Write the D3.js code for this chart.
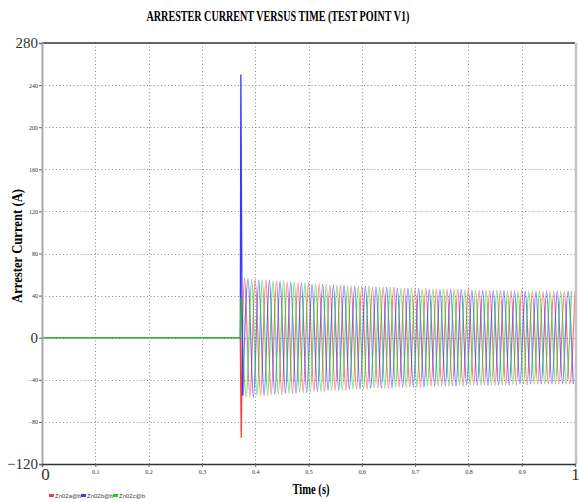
<!DOCTYPE html>
<html>
<head>
<meta charset="utf-8">
<script src="https://cdn.jsdelivr.net/npm/d3@7"></script>
<style>
  body { margin: 0; background: #fff; }
  svg { display: block; font-family: "Liberation Serif", "DejaVu Serif", serif; }
</style>
</head>
<body>
<svg id="chart" width="579" height="502"></svg>
<script>
// axis ticks
const xTicks = [0, 0.1, 0.2, 0.3, 0.4, 0.5, 0.6, 0.7, 0.8, 0.9, 1];
const yTicks = [-120, -80, -40, 0, 40, 80, 120, 160, 200, 240, 280];
const seriesNames = ["Zn02a@b", "Zn02b@b", "Zn02c@b"];
const seriesColors = ["#ff3b3b", "#3a3aff", "#22cc22"];

// pre-fault and switching transient, [time, current]
const redLead = [[0, 0], [0.372, 0], [0.3738, -95], [0.3765, 18]];
const blueLead = [[0, 0], [0.372, 0], [0.3731, 250], [0.3752, 30], [0.3767, -55]];
const greenLead = [[0, 0], [0.372, 0], [0.3735, 38]];

// half-cycle extremes after the transient (50 Hz, one every 10 ms per phase)
const halfCycle = 0.01;
const redStart = 0.38, greenStart = 0.38333, blueStart = 0.38667;
const redPeaks = [
  57,-56,56,-55,55,-54,54,-54,53,-53,
  52,-52,52,-51,51,-51,50,-50,50,-50,
  49,-49,49,-49,48,-48,48,-48,48,-47,
  47,-47,47,-47,47,-46,46,-46,46,-46,
  46,-46,46,-45,45,-45,45,-45,45,-45,
  45,-45,45,-45,44,-44,44,-44,44,-44,
  44,-44,44];
const bluePeaks = [
  56,-57,55,-55,55,-54,54,-53,53,-53,
  52,-52,51,-51,51,-50,50,-50,50,-49,
  49,-49,49,-48,48,-48,48,-48,47,-47,
  47,-47,47,-47,46,-46,46,-46,46,-46,
  46,-45,45,-45,45,-45,45,-45,45,-45,
  44,-44,44,-44,44,-44,44,-44,44,-44,
  44,-44];
const greenPeaks = [
  -56,56,-55,55,-55,54,-54,54,-53,53,
  -52,52,-52,51,-51,51,-50,50,-50,49,
  -49,49,-49,49,-48,48,-48,48,-47,47,
  -47,47,-47,46,-46,46,-46,46,-46,46,
  -45,45,-45,45,-45,45,-45,45,-45,44,
  -44,44,-44,44,-44,44,-44,44,-44,44,
  -44,44];

const leads = [redLead, blueLead, greenLead];
const buildSeries = (lead, start, peaks) =>
  lead.slice(-1).concat(peaks.map((v, i) => [start + i * halfCycle, v]));

const waves = [
  buildSeries(redLead, redStart, redPeaks),
  buildSeries(blueLead, blueStart, bluePeaks),
  buildSeries(greenLead, greenStart, greenPeaks)
];

const svg = d3.select("#chart");
const plotLeft = 42, plotRight = 575, plotTop = 43, plotBottom = 464;

const x = d3.scaleLinear().domain([0, 1]).range([plotLeft, plotRight]);
const y = d3.scaleLinear().domain([-120, 280]).range([plotBottom, plotTop]);

// title
svg.append("text")
  .attr("x", 278).attr("y", 21)
  .attr("text-anchor", "middle")
  .attr("font-size", 15).attr("font-weight", "bold")
  .attr("textLength", 263).attr("lengthAdjust", "spacingAndGlyphs")
  .text("ARRESTER CURRENT VERSUS TIME (TEST POINT V1)");

// grid
const grid = svg.append("g").attr("stroke", "#8a8a8a").attr("stroke-dasharray", "1,2.5").attr("stroke-width", 1);
grid.selectAll("line.v").data(xTicks.slice(1, -1)).join("line")
  .attr("class", "v")
  .attr("x1", d => Math.round(x(d)) + 0.5).attr("x2", d => Math.round(x(d)) + 0.5)
  .attr("y1", plotTop).attr("y2", plotBottom);
grid.selectAll("line.h").data(yTicks.slice(1, -1)).join("line")
  .attr("class", "h")
  .attr("x1", plotLeft).attr("x2", plotRight)
  .attr("y1", d => Math.round(y(d)) + 0.5).attr("y2", d => Math.round(y(d)) + 0.5);

// traces: transient as straight segments, steady oscillation smoothed through the extremes
const leadLine = d3.line().x(d => x(d[0])).y(d => y(d[1]));
const waveLine = d3.line().x(d => x(d[0])).y(d => y(d[1])).curve(d3.curveMonotoneX);
const traces = svg.append("g").attr("fill", "none");
traces.selectAll("path.wave").data(waves).join("path")
  .attr("class", "wave")
  .attr("d", waveLine)
  .attr("stroke", (d, i) => seriesColors[i])
  .attr("stroke-width", 1.2)
  .attr("stroke-opacity", 0.7);
traces.selectAll("path.lead").data(leads).join("path")
  .attr("class", "lead")
  .attr("d", leadLine)
  .attr("stroke", (d, i) => seriesColors[i])
  .attr("stroke-width", 1.3);

// frame
svg.append("line").attr("x1", plotLeft).attr("x2", plotRight).attr("y1", plotTop).attr("y2", plotTop)
  .attr("stroke", "#333").attr("stroke-width", 1.3);
svg.append("line").attr("x1", plotRight + 1).attr("x2", plotRight + 1).attr("y1", plotTop).attr("y2", plotBottom)
  .attr("stroke", "#c4c4c4").attr("stroke-width", 2.5);

// axes
const yAxis = d3.axisLeft(y).tickValues(yTicks).tickSize(3).tickFormat(d3.format("d"));
const gy = svg.append("g").attr("transform", `translate(${plotLeft},0)`).call(yAxis);
gy.select(".domain").attr("stroke", "#aaa").attr("stroke-width", 2);
gy.selectAll(".tick line").attr("stroke", "#666");
gy.selectAll(".tick text")
  .attr("x", -4)
  .attr("font-family", "Liberation Serif, serif")
  .attr("fill", "#333")
  .attr("font-size", d => (d === 280 || d === 0 || d === -120) ? 15 : 6);

const xAxis = d3.axisBottom(x).tickValues(xTicks).tickSize(3).tickFormat(d => d === 0 || d === 1 ? d : d.toFixed(1));
const gx = svg.append("g").attr("transform", `translate(0,${plotBottom})`).call(xAxis);
gx.select(".domain").attr("stroke", "#333").attr("stroke-width", 1.3);
gx.selectAll(".tick line").attr("stroke", "#666");
gx.selectAll(".tick text")
  .attr("font-family", "Liberation Serif, serif")
  .attr("fill", "#333")
  .attr("font-size", d => (d === 0 || d === 1) ? 17 : 6)
  .attr("y", d => (d === 0 || d === 1) ? 4 : 6)
  .attr("dx", d => d === 0 ? 3 : 0);

// axis titles
svg.append("text")
  .attr("transform", `translate(22,246) rotate(-90)`)
  .attr("text-anchor", "middle")
  .attr("font-size", 14).attr("font-weight", "bold")
  .attr("textLength", 114).attr("lengthAdjust", "spacingAndGlyphs")
  .text("Arrester Current (A)");
svg.append("text")
  .attr("x", 311).attr("y", 494)
  .attr("text-anchor", "middle")
  .attr("font-size", 14).attr("font-weight", "bold")
  .attr("textLength", 37).attr("lengthAdjust", "spacingAndGlyphs")
  .text("Time (s)");

// legend
const legend = svg.append("g").attr("transform", "translate(49,496)");
const legendX = [0, 32, 64];
seriesNames.forEach((name, i) => {
  legend.append("rect").attr("x", legendX[i]).attr("y", -2).attr("width", 5).attr("height", 3)
    .attr("fill", seriesColors[i]);
  legend.append("text").attr("x", legendX[i] + 6).attr("y", 2)
    .attr("font-size", 6).attr("fill", "#444")
    .attr("font-family", "Liberation Sans, sans-serif")
    .text(name);
});
</script>
</body>
</html>
